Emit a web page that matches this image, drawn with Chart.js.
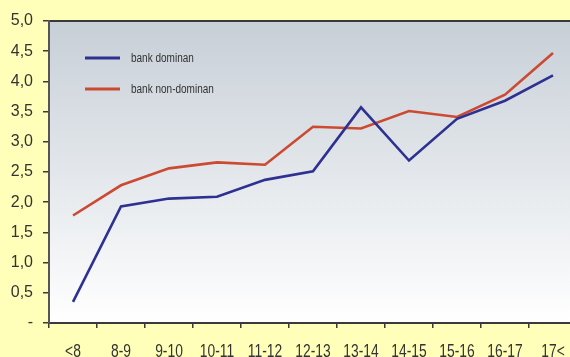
<!DOCTYPE html>
<html>
<head>
<meta charset="utf-8">
<script src="https://cdn.jsdelivr.net/npm/chart.js@4/dist/chart.umd.min.js"></script>
<style>
  html, body { margin: 0; padding: 0; background: #FFFFB9; overflow: hidden; }
  #wrap { width: 570px; height: 357px; overflow: hidden; }
  canvas { display: block; }
</style>
</head>
<body>
<div id="wrap"><canvas id="c" width="580" height="357"></canvas></div>
<script>
// Age groups (years)
const categories = ['<8', '8-9', '9-10', '10-11', '11-12', '12-13', '13-14', '14-15', '15-16', '16-17', '17<'];
// Series values
const bankDominan = [0.35, 1.93, 2.06, 2.09, 2.37, 2.51, 3.57, 2.69, 3.38, 3.68, 4.10];
const bankNonDominan = [1.78, 2.28, 2.56, 2.66, 2.62, 3.25, 3.22, 3.51, 3.41, 3.78, 4.47];
// Y axis tick values
const yTicks = [0, 0.5, 1.0, 1.5, 2.0, 2.5, 3.0, 3.5, 4.0, 4.5, 5.0];

const FONT = "'Liberation Sans', Arial, sans-serif";
const TEXT = '#333333';

// Grey-blue gradient behind the plot, with a dark top rule
const plotBackground = {
  id: 'plotBackground',
  beforeDraw(chart) {
    const { ctx, chartArea: a } = chart;
    ctx.save();
    const g = ctx.createLinearGradient(0, a.top, 0, a.bottom);
    g.addColorStop(0, '#C7CFD7');
    g.addColorStop(1, '#FFFFFF');
    ctx.fillStyle = g;
    ctx.fillRect(a.left, a.top, a.right - a.left, a.bottom - a.top);
    ctx.strokeStyle = '#3A3A3A';
    ctx.lineWidth = 2;
    ctx.beginPath();
    ctx.moveTo(a.left, a.top);
    ctx.lineTo(a.right + 5, a.top);
    ctx.stroke();
    ctx.restore();
  }
};

// Narrow category labels under the x axis, placed by the category scale
const narrowXLabels = {
  id: 'narrowXLabels',
  afterDraw(chart) {
    const { ctx } = chart;
    const xs = chart.scales.x;
    ctx.save();
    ctx.font = '18px ' + FONT;
    ctx.fillStyle = TEXT;
    ctx.textAlign = 'center';
    ctx.textBaseline = 'alphabetic';
    const squeeze = 0.77;
    chart.data.labels.forEach((lab, i) => {
      const x = xs.getPixelForValue(i);
      ctx.save();
      ctx.translate(x, xs.top + 33.5);
      ctx.scale(squeeze, 1);
      ctx.fillText(lab, 0, 0);
      ctx.restore();
    });
    ctx.restore();
  }
};

// Legend drawn inside the upper-left part of the plot
const innerLegend = {
  id: 'innerLegend',
  afterDatasetsDraw(chart) {
    const { ctx, chartArea: a } = chart;
    ctx.save();
    ctx.font = '12.5px ' + FONT;
    ctx.textBaseline = 'middle';
    chart.data.datasets.forEach((ds, i) => {
      const y = a.top + 37 + i * 31;
      const x0 = a.left + 36;
      ctx.strokeStyle = ds.borderColor;
      ctx.lineWidth = 3;
      ctx.beginPath();
      ctx.moveTo(x0, y);
      ctx.lineTo(x0 + 35, y);
      ctx.stroke();
      ctx.fillStyle = TEXT;
      ctx.save();
      ctx.translate(x0 + 46, y + 1);
      ctx.scale(0.8, 1);
      ctx.fillText(ds.label, 0, 0);
      ctx.restore();
    });
    ctx.restore();
  }
};

new Chart(document.getElementById('c'), {
  type: 'line',
  data: {
    labels: categories,
    datasets: [
      {
        label: 'bank dominan',
        data: bankDominan,
        borderColor: '#2E3192',
        borderWidth: 2.6,
        pointRadius: 0,
        tension: 0,
        fill: false
      },
      {
        label: 'bank non-dominan',
        data: bankNonDominan,
        borderColor: '#CC4A32',
        borderWidth: 2.6,
        pointRadius: 0,
        tension: 0,
        fill: false
      }
    ]
  },
  options: {
    responsive: false,
    animation: false,
    layout: { padding: { top: 21, right: 3, left: 0, bottom: 0 } },
    plugins: {
      legend: { display: false },
      tooltip: { enabled: false }
    },
    scales: {
      x: {
        type: 'category',
        offset: true,
        grid: {
          offset: true,
          drawOnChartArea: false,
          drawTicks: true,
          tickLength: 5,
          color: '#3A3A3A',
          lineWidth: 1.5
        },
        border: { display: true, color: '#3A3A3A', width: 2 },
        ticks: { display: false },
        afterFit(scale) { scale.height = 34; }
      },
      y: {
        min: 0,
        max: 5,
        afterBuildTicks(scale) { scale.ticks = yTicks.map(v => ({ value: v })); },
        grid: {
          drawOnChartArea: false,
          drawTicks: true,
          tickLength: 6,
          color: '#3A3A3A',
          lineWidth: 1.5
        },
        border: { display: true, color: '#555555', width: 2 },
        ticks: {
          color: TEXT,
          font: { family: FONT, size: 16 },
          padding: 10,
          callback: v => v === 0 ? '-' : v.toFixed(1).replace('.', ',')
        },
        afterFit(scale) { scale.width = 49; }
      }
    }
  },
  plugins: [plotBackground, narrowXLabels, innerLegend]
});
</script>
</body>
</html>
